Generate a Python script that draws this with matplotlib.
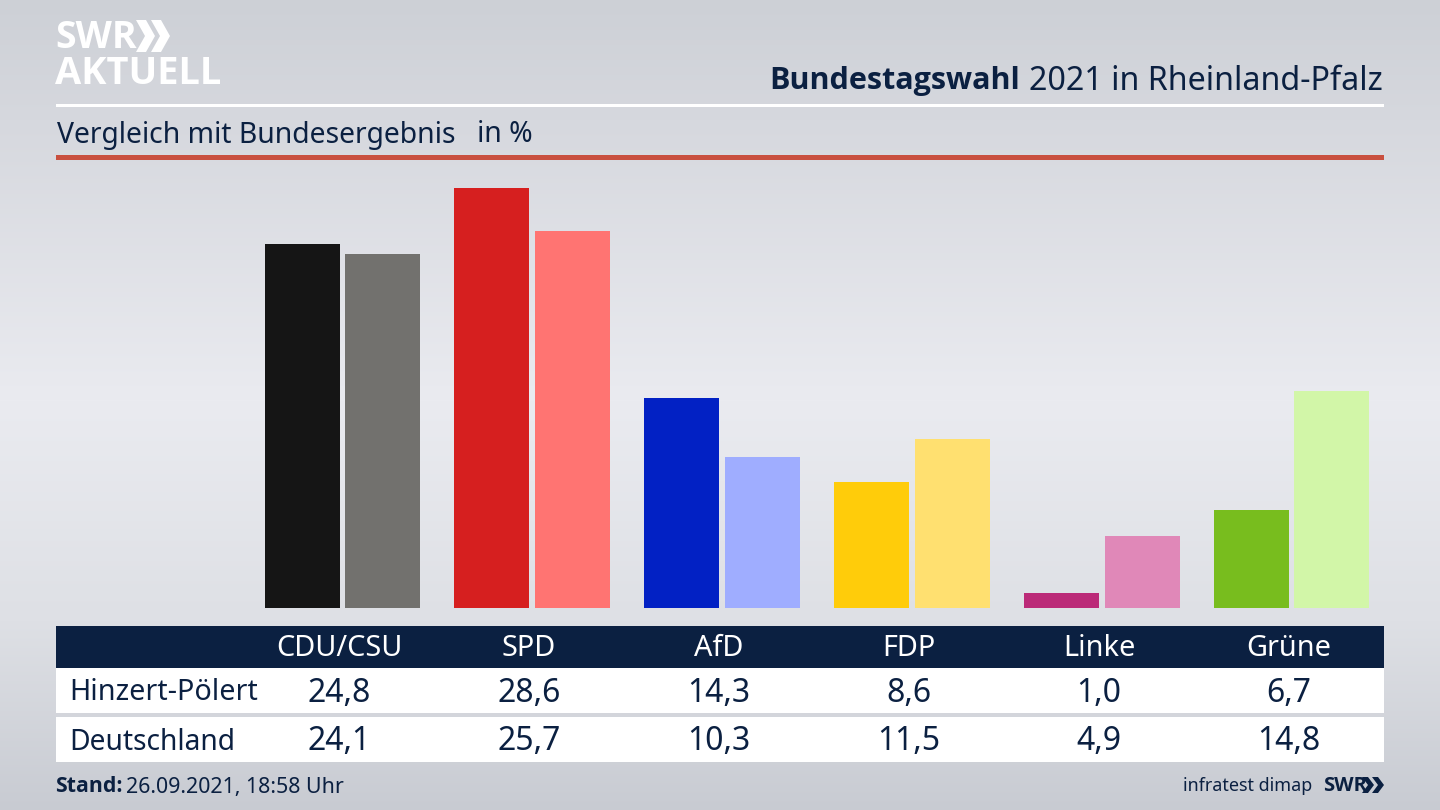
import matplotlib
matplotlib.use("Agg")
import matplotlib.pyplot as plt
import numpy as np
from matplotlib.patches import Polygon, Rectangle

plt.rcParams['font.family'] = ['Noto Sans', 'DejaVu Sans']

# data
parties = ["CDU/CSU", "SPD", "AfD", "FDP", "Linke", "Grüne"]
hinzert = [24.8, 28.6, 14.3, 8.6, 1.0, 6.7]
deutschland = [24.1, 25.7, 10.3, 11.5, 4.9, 14.8]
row_names = ["Hinzert-Pölert", "Deutschland"]
colors_local = ["#151515", "#d61f1f", "#0221c4", "#ffcc0a", "#bb2a78", "#78bd1e"]
colors_bund = ["#72716e", "#ff7472", "#9fadff", "#ffe070", "#e088b8", "#d2f6a8"]

navy = "#0b2041"

fig = plt.figure(figsize=(14.4, 8.1), dpi=100)

# background gradient
bg = fig.add_axes([0, 0, 1, 1], zorder=0)
stops_y = [0, 120, 400, 620, 810]
stops_c = [[205, 208, 214], [214, 216, 222], [234, 235, 240], [222, 224, 229], [200, 203, 210]]
rows = np.arange(810)
grad = np.stack([np.interp(rows, stops_y, [c[i] for c in stops_c]) for i in range(3)], axis=1)
bg.imshow(grad[:, None, :] / 255, aspect="auto", extent=(0, 1440, 810, 0))
bg.set_xlim(0, 1440)
bg.set_ylim(810, 0)
bg.axis("off")


def box(x, y, w, h, col):
    bg.add_patch(Rectangle((x, y), w, h, facecolor=col, linewidth=0))


def chevron(x0, y0, w, h, thick, col):
    bg.add_patch(Polygon([(x0, y0), (x0 + thick, y0), (x0 + w, y0 + h / 2), (x0 + thick, y0 + h),
                          (x0, y0 + h), (x0 + w - thick, y0 + h / 2)], facecolor=col, linewidth=0))


# header rules
box(56, 104, 1328, 3, "white")
box(56, 155, 1328, 5, "#c9503f")

# logo
bg.text(55, 38, "SWR", fontsize=27, fontweight="bold", color="white", va="center", ha="left", family="Open Sans")
bg.text(55, 74, "AKTUELL", fontsize=27.4, fontweight="bold", color="white", va="center", ha="left", family="Open Sans")
chevron(136, 20, 19, 32, 10, "white")
chevron(151, 20, 19, 32, 10, "white")

# titles
bg.text(769, 81, "Bundestagswahl", fontsize=22, fontweight="bold", color=navy, va="center", ha="left", family="Open Sans")
bg.text(1383, 81, "2021 in Rheinland-Pfalz", fontsize=23.2, color=navy, va="center", ha="right")
bg.text(57, 135, "Vergleich mit Bundesergebnis", fontsize=20.4, color=navy, va="center", ha="left")
bg.text(477, 135, "in %", fontsize=20.4, color=navy, va="center", ha="left")

# table
box(56, 626, 1328, 42, navy)
box(56, 668, 1328, 45, "white")
box(56, 717, 1328, 45, "white")
col_x = 339 + 190 * np.arange(len(parties))
for x, p, a, b in zip(col_x, parties, hinzert, deutschland):
    bg.text(x, 649, p, fontsize=20.8, color="white", va="center", ha="center")
    bg.text(x, 693, f"{a:.1f}".replace(".", ","), fontsize=23, color=navy, va="center", ha="center")
    bg.text(x, 742, f"{b:.1f}".replace(".", ","), fontsize=23, color=navy, va="center", ha="center")
bg.text(69, 693, row_names[0], fontsize=20.7, color=navy, va="center", ha="left")
bg.text(69, 742, row_names[1], fontsize=20.3, color=navy, va="center", ha="left")

# footer
bg.text(55, 787, "Stand:", fontsize=15.3, fontweight="bold", color=navy, va="center", ha="left", family="Open Sans")
bg.text(126, 787, "26.09.2021, 18:58 Uhr", fontsize=15.4, color=navy, va="center", ha="left")
bg.text(1312, 786, "infratest dimap", fontsize=12.9, color=navy, va="center", ha="right")
bg.text(1323, 786, "SWR", fontsize=14.5, fontweight="bold", color=navy, va="center", ha="left", family="Open Sans")
chevron(1362, 777, 12, 16, 6, navy)
chevron(1372, 777, 12, 16, 6, navy)

# bars
ax = fig.add_axes([56 / 1440, (810 - 608) / 810, 1328 / 1440, 448 / 810], zorder=1)
ax.patch.set_alpha(0)
x = np.arange(len(parties))
ax.bar(x - 0.212, hinzert, width=0.395, color=colors_local)
ax.bar(x + 0.214, deutschland, width=0.395, color=colors_bund)
ax.set_xlim((56 - 342.3) / 189.8, (1384 - 342.3) / 189.8)
ax.set_ylim(0, 448 / 14.68)
ax.axis("off")

plt.savefig("out.png", dpi=100)
